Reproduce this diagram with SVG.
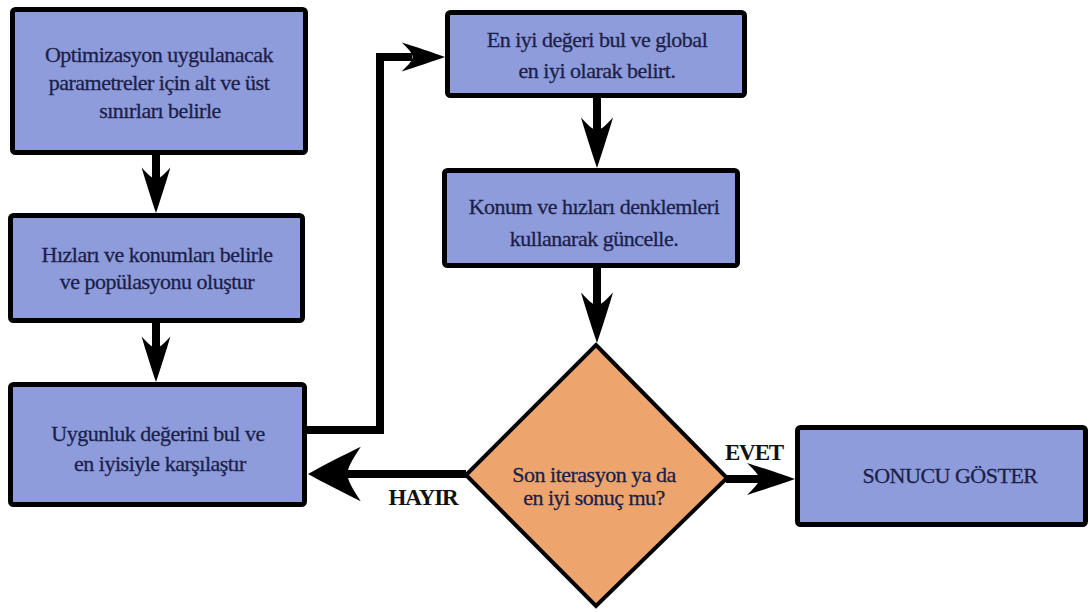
<svg xmlns="http://www.w3.org/2000/svg" xmlns:xlink="http://www.w3.org/1999/xlink" width="1090" height="612" viewBox="0 0 1090 612">
<style>
.box{fill:#8e9cdb;stroke:#000;stroke-width:5;}
.dia{fill:#eda56d;stroke:#000;stroke-width:4;stroke-linejoin:miter;}
.tx{font-family:'Liberation Serif','DejaVu Serif',serif;font-size:22px;fill:#1c1f4a;stroke:#1c1f4a;stroke-width:0.3;text-anchor:middle;letter-spacing:-0.5px;}
.lbl{font-family:'Liberation Serif','DejaVu Serif',serif;font-size:23px;font-weight:bold;fill:#111;text-anchor:middle;letter-spacing:-1.1px;}
.ln{fill:none;stroke:#000;stroke-width:8;stroke-linejoin:miter;}
.ah{fill:#000;}
</style>
<defs>
<path id="ah" d="M0,0 C-14,-5 -32,-11 -48,-16 C-40,-8 -36,-4 -36,0 C-36,4 -40,8 -48,16 C-32,11 -14,5 0,0 Z"/>
</defs>
<rect width="1090" height="612" fill="#fff"/>
<g id="connectors">
<line class="ln" x1="156" y1="155" x2="156" y2="182"/>
<use class="ah" xlink:href="#ah" transform="translate(156,213) rotate(90) scale(0.95,0.9)"/>
<line class="ln" x1="156" y1="323" x2="156" y2="350"/>
<use class="ah" xlink:href="#ah" transform="translate(156,382) rotate(90) scale(0.95,0.9)"/>
<polyline class="ln" points="307,430 380,430 380,57 412,57"/>
<use class="ah" xlink:href="#ah" transform="translate(445,57) scale(0.9,0.9)"/>
<line class="ln" x1="597" y1="98" x2="597" y2="134"/>
<use class="ah" xlink:href="#ah" transform="translate(597,168) rotate(90) scale(1.05,1)"/>
<line class="ln" x1="597" y1="268" x2="597" y2="308"/>
<use class="ah" xlink:href="#ah" transform="translate(597,343) rotate(90) scale(1.05,1)"/>
<line class="ln" x1="466" y1="474" x2="345" y2="474"/>
<use class="ah" xlink:href="#ah" transform="translate(308,474) rotate(180) scale(1.1,1.7)"/>
<line class="ln" x1="726" y1="479" x2="762" y2="479"/>
<use class="ah" xlink:href="#ah" transform="translate(795,479) scale(1,1)"/>
<text class="lbl" x="423" y="505">HAYIR</text>
<text class="lbl" x="754" y="460">EVET</text>
</g>
<g id="n1">
<rect class="box" x="12.5" y="9.5" width="293" height="143" rx="3"/>
<text class="tx" x="159" y="62">Optimizasyon uygulanacak</text>
<text class="tx" x="159" y="90">parametreler için alt ve üst</text>
<text class="tx" x="160" y="118">sınırları belirle</text>
</g>
<g id="n2">
<rect class="box" x="10.5" y="215.5" width="292" height="105" rx="3"/>
<text class="tx" x="157" y="262">Hızları ve konumları belirle</text>
<text class="tx" x="157" y="289">ve popülasyonu oluştur</text>
</g>
<g id="n3">
<rect class="box" x="10.5" y="384.5" width="294" height="120" rx="3"/>
<text class="tx" x="158" y="441">Uygunluk değerini bul ve</text>
<text class="tx" x="160" y="471">en iyisiyle karşılaştır</text>
</g>
<g id="n4">
<rect class="box" x="447.5" y="12.5" width="297" height="83" rx="3"/>
<text class="tx" x="597" y="47">En iyi değeri bul ve global</text>
<text class="tx" x="597" y="78">en iyi olarak belirt.</text>
</g>
<g id="n5">
<rect class="box" x="444.5" y="170.5" width="293" height="95" rx="3"/>
<text class="tx" x="594" y="214">Konum ve hızları denklemleri</text>
<text class="tx" x="594" y="246">kullanarak güncelle.</text>
</g>
<g id="n6">
<polygon class="dia" points="596,345 727,478 596,606 466,475"/>
<text class="tx" x="594" y="482">Son iterasyon ya da</text>
<text class="tx" x="594" y="505">en iyi sonuç mu?</text>
</g>
<g id="n7">
<rect class="box" x="797.5" y="427.5" width="288" height="97" rx="3"/>
<text class="tx" x="950" y="483">SONUCU GÖSTER</text>
</g>
</svg>
